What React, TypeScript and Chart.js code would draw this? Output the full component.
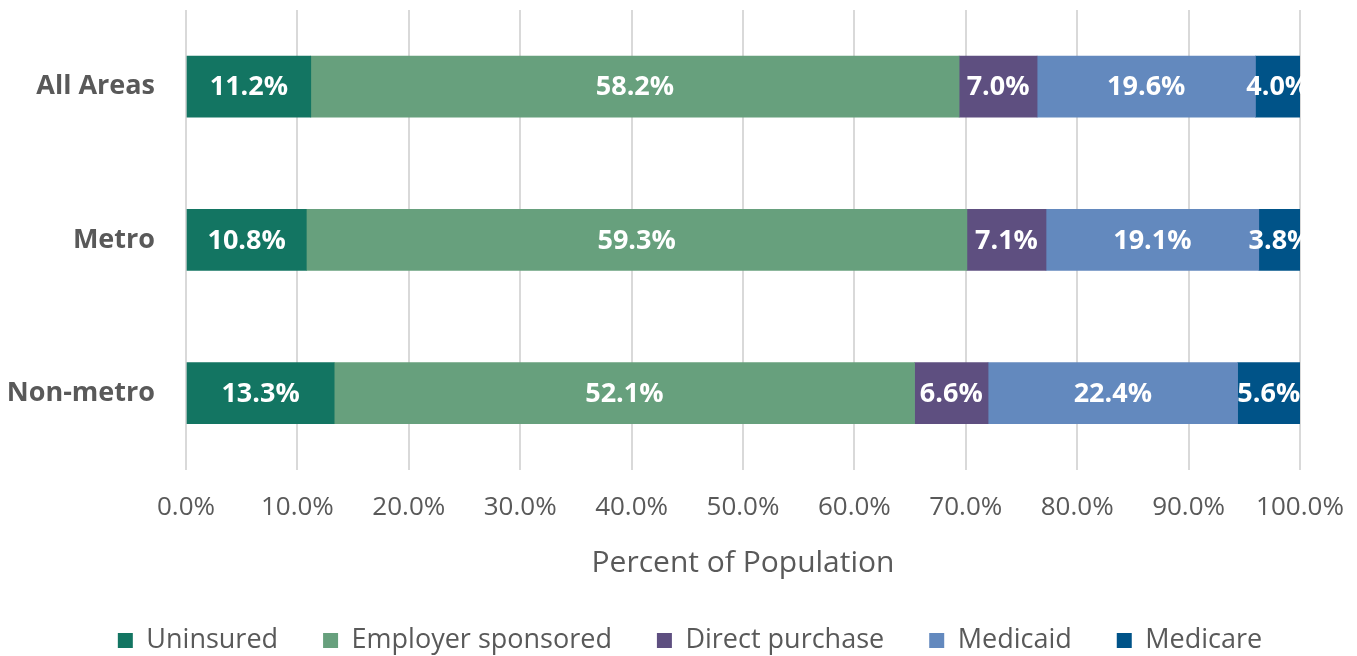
import React, { useEffect, useRef } from "react";
import { Chart, registerables } from "chart.js";

Chart.register(...registerables);

const categories = ["All Areas", "Metro", "Non-metro"];
const seriesNames = ["Uninsured", "Employer sponsored", "Direct purchase", "Medicaid", "Medicare"];
const uninsured = [11.2, 10.8, 13.3];
const employer = [58.2, 59.3, 52.1];
const direct = [7.0, 7.1, 6.6];
const medicaid = [19.6, 19.1, 22.4];
const medicare = [4.0, 3.8, 5.6];
const xTicks = [0, 10, 20, 30, 40, 50, 60, 70, 80, 90, 100];
const colors = ["#137562", "#67A07D", "#5E4F80", "#6389BE", "#005388"];

const FONT = "'Open Sans', sans-serif";

const labelPlugin = {
  id: "segLabels",
  afterLayout(chart: any) {
    const l = chart.legend;
    if (l) {
      l.left += 40;
      l.right += 40;
    }
  },
  afterDatasetsDraw(chart: any) {
    const ctx = chart.ctx;
    ctx.save();
    ctx.fillStyle = "#ffffff";
    ctx.font = `bold 27px ${FONT}`;
    ctx.textAlign = "center";
    ctx.textBaseline = "middle";
    chart.data.datasets.forEach((ds: any, di: number) => {
      const meta = chart.getDatasetMeta(di);
      meta.data.forEach((bar: any, i: number) => {
        const v = ds.data[i];
        const x = (bar.x + bar.base) / 2;
        ctx.fillText(v.toFixed(1) + "%", x, bar.y + 1);
      });
    });
    ctx.restore();
  },
};

export default function App() {
  const ref = useRef<HTMLCanvasElement>(null);
  useEffect(() => {
    document.body.style.margin = "0";
    const all = [uninsured, employer, direct, medicaid, medicare];
    const chart = new Chart(ref.current!, {
      type: "bar",
      data: {
        labels: categories,
        datasets: all.map((d, i) => ({
          label: seriesNames[i],
          data: d,
          backgroundColor: colors[i],
          borderWidth: 0,
          barThickness: 61,
        })),
      },
      options: {
        indexAxis: "y",
        animation: false,
        responsive: false,
        maintainAspectRatio: false,
        layout: { padding: { top: 10, right: 57, left: 0, bottom: -8 } },
        scales: {
          x: {
            stacked: true,
            min: 0,
            max: 100,
            afterBuildTicks: (axis: any) => {
              axis.ticks = xTicks.map((v) => ({ value: v }));
            },
            afterFit: (axis: any) => {
              axis.paddingLeft = 0;
              axis.paddingRight = 0;
            },
            grid: { color: "#d9d9d9", lineWidth: 2, drawTicks: false },
            border: { display: false },
            ticks: {
              padding: 22,
              color: "#595959",
              font: { family: FONT, size: 26 },
              callback: (v: any) => Number(v).toFixed(1) + "%",
            },
            title: {
              display: true,
              text: "Percent of Population",
              color: "#595959",
              font: { family: FONT, size: 30 },
              padding: { top: 0, bottom: 1 },
            },
          },
          y: {
            stacked: true,
            grid: { display: false, drawTicks: false },
            border: { display: false },
            afterFit: (axis: any) => {
              axis.width = 186;
              axis.paddingTop = 0;
              axis.paddingBottom = 0;
            },
            ticks: {
              padding: 31,
              color: "#595959",
              font: { family: FONT, size: 27, weight: "bold" },
            },
          },
        },
        plugins: {
          legend: {
            position: "bottom",
            labels: {
              color: "#595959",
              font: { family: FONT, size: 27 },
              boxWidth: 15,
              boxHeight: 15,
              padding: 45,
            },
          },
          tooltip: { enabled: false },
        },
      },
      plugins: [labelPlugin],
    });
    return () => chart.destroy();
  }, []);
  return <canvas ref={ref} width={1357} height={656} style={{ display: "block" }} />;
}
